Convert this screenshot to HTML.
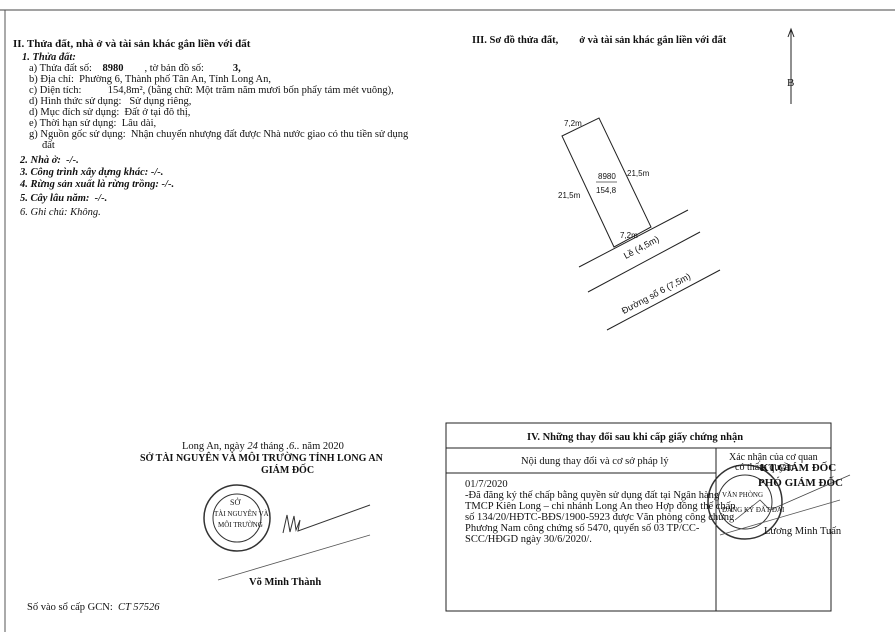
<!DOCTYPE html>
<html><head><meta charset="utf-8"><style>
body{margin:0;width:895px;height:632px;background:#fff;position:relative;overflow:hidden;font-family:"Liberation Serif",serif;color:#111}
.t{position:absolute;font-size:10.5px;white-space:nowrap;line-height:11px}
.b{font-weight:bold}.i{font-style:italic}
.s{font-family:"Liberation Sans",sans-serif;font-size:8px}
</style></head><body>
<svg width="895" height="632" style="position:absolute;left:0;top:0">
<line x1="0" y1="10" x2="895" y2="10" stroke="#444" stroke-width="1"/>
<line x1="5" y1="10" x2="5" y2="632" stroke="#555" stroke-width="1"/>
<polygon points="562,136 599,118 651,227 614,247" fill="none" stroke="#222" stroke-width="1"/>
<line x1="596" y1="182" x2="617" y2="182" stroke="#444" stroke-width="0.7"/>
<line x1="579" y1="267" x2="688" y2="210" stroke="#222"/>
<line x1="588" y1="292" x2="700" y2="232" stroke="#222"/>
<line x1="607" y1="330" x2="720" y2="270" stroke="#222"/>
<line x1="791" y1="30" x2="791" y2="104" stroke="#222"/>
<polyline points="788,37 791,29 794,37" fill="none" stroke="#222"/>
<rect x="446" y="423" width="385" height="188" fill="none" stroke="#222"/>
<line x1="446" y1="448" x2="831" y2="448" stroke="#222"/>
<line x1="446" y1="473" x2="716" y2="473" stroke="#222"/>
<line x1="716" y1="448" x2="716" y2="611" stroke="#222"/>
<circle cx="237" cy="518" r="33" fill="none" stroke="#333" stroke-width="1.5"/>
<circle cx="237" cy="518" r="24" fill="none" stroke="#333" stroke-width="1"/>
<circle cx="745" cy="502" r="37" fill="none" stroke="#333" stroke-width="1.5"/>
<circle cx="745" cy="502" r="27" fill="none" stroke="#333" stroke-width="1"/>
<path d="M283,533 L287,515 L290,532 L294,516 L296,530 L300,520 L298,531 L370,505" fill="none" stroke="#333"/>
<path d="M218,580 L370,535" fill="none" stroke="#555" stroke-width="0.8"/>
<path d="M735,520 L760,500 L770,510 L850,475" fill="none" stroke="#444" stroke-width="0.8"/>
<path d="M720,535 L840,500" fill="none" stroke="#555" stroke-width="0.8"/>
</svg>
<div class="t b" style="left:13px;top:39px;font-size:11px">II. Thửa đất, nhà ở và tài sản khác gắn liền với đất</div>
<div class="t b i" style="left:22px;top:52px">1. Thửa đất:</div>
<div class="t" style="left:29px;top:63px">a) Thửa đất số:&nbsp;&nbsp;&nbsp; <b>8980</b>&nbsp;&nbsp;&nbsp;&nbsp;&nbsp;&nbsp;&nbsp;&nbsp;, tờ bản đồ số:&nbsp;&nbsp;&nbsp;&nbsp;&nbsp;&nbsp;&nbsp;&nbsp;&nbsp;&nbsp; <b>3,</b></div>
<div class="t" style="left:29px;top:74px">b) Địa chỉ:&nbsp; Phường 6, Thành phố Tân An, Tỉnh Long An,</div>
<div class="t" style="left:29px;top:85px">c) Diện tích:&nbsp;&nbsp;&nbsp;&nbsp;&nbsp;&nbsp;&nbsp;&nbsp;&nbsp; 154,8m², (bằng chữ: Một trăm năm mươi bốn phẩy tám mét vuông),</div>
<div class="t" style="left:29px;top:96px">d) Hình thức sử dụng:&nbsp;&nbsp; Sử dụng riêng,</div>
<div class="t" style="left:29px;top:107px">d) Mục đích sử dụng:&nbsp; Đất ở tại đô thị,</div>
<div class="t" style="left:29px;top:118px">e) Thời hạn sử dụng:&nbsp; Lâu dài,</div>
<div class="t" style="left:29px;top:129px">g) Nguồn gốc sử dụng:&nbsp; Nhận chuyển nhượng đất được Nhà nước giao có thu tiền sử dụng</div>
<div class="t" style="left:42px;top:140px">đất</div>
<div class="t b i" style="left:20px;top:155px">2. Nhà ở:&nbsp; -/-.</div>
<div class="t b i" style="left:20px;top:167px">3. Công trình xây dựng khác: -/-.</div>
<div class="t b i" style="left:20px;top:179px">4. Rừng sản xuất là rừng trồng: -/-.</div>
<div class="t b i" style="left:20px;top:193px">5. Cây lâu năm:&nbsp; -/-.</div>
<div class="t i" style="left:20px;top:207px">6. Ghi chú: Không.</div>
<div class="t b" style="left:472px;top:35px">III. Sơ đồ thửa đất,&nbsp;&nbsp;&nbsp;&nbsp;&nbsp;&nbsp;&nbsp; ở và tài sản khác gắn liền với đất</div>
<div class="t" style="left:787px;top:78px;font-size:11px">B</div>
<div class="t s" style="left:564px;top:118px">7,2m</div>
<div class="t s" style="left:598px;top:171px">8980</div>
<div class="t s" style="left:596px;top:185px">154,8</div>
<div class="t s" style="left:627px;top:168px">21,5m</div>
<div class="t s" style="left:558px;top:190px">21,5m</div>
<div class="t s" style="left:620px;top:230px">7,2m</div>
<div class="t s" style="left:622px;top:252px;font-size:9px;transform:rotate(-28deg);transform-origin:left top">Lề (4,5m)</div>
<div class="t s" style="left:620px;top:307px;font-size:9px;transform:rotate(-28deg);transform-origin:left top">Đường số 6 (7,5m)</div>
<div class="t" style="left:182px;top:441px">Long An, ngày <i>24</i> tháng <i>.6..</i> năm 2020</div>
<div class="t b" style="left:140px;top:453px;font-size:10px">SỞ TÀI NGUYÊN VÀ MÔI TRƯỜNG TỈNH LONG AN</div>
<div class="t b" style="left:261px;top:465px;font-size:10px">GIÁM ĐỐC</div>
<div class="t" style="left:230px;top:497px;font-size:8px">SỞ</div>
<div class="t" style="left:214px;top:509px;font-size:7px">TÀI NGUYÊN VÀ</div>
<div class="t" style="left:218px;top:520px;font-size:7px">MÔI TRƯỜNG</div>
<div class="t b" style="left:249px;top:577px">Võ Minh Thành</div>
<div class="t" style="left:27px;top:602px">Số vào sổ cấp GCN:&nbsp; <i>CT 57526</i></div>
<div class="t b" style="left:527px;top:432px">IV. Những thay đổi sau khi cấp giấy chứng nhận</div>
<div class="t" style="left:521px;top:456px">Nội dung thay đổi và cơ sở pháp lý</div>
<div class="t" style="left:729px;top:452px;font-size:10px">Xác nhận của cơ quan</div>
<div class="t" style="left:735px;top:462px;font-size:10px">có thẩm quyền</div>
<div class="t b" style="left:760px;top:463px;font-size:11px">KT.GIÁM ĐỐC</div>
<div class="t b" style="left:758px;top:478px;font-size:11px">PHÓ GIÁM ĐỐC</div>
<div class="t" style="left:722px;top:490px;font-size:7px">VĂN PHÒNG</div>
<div class="t" style="left:722px;top:505px;font-size:7px">ĐĂNG KÝ ĐẤT ĐAI</div>
<div class="t" style="left:764px;top:526px">Lương Minh Tuấn</div>
<div class="t" style="left:465px;top:479px">01/7/2020</div>
<div class="t" style="left:465px;top:490px">-Đã đăng ký thế chấp bằng quyền sử dụng đất tại Ngân hàng</div>
<div class="t" style="left:465px;top:501px">TMCP Kiên Long – chi nhánh Long An theo Hợp đồng thế chấp</div>
<div class="t" style="left:465px;top:512px">số 134/20/HĐTC-BĐS/1900-5923 được Văn phòng công chứng</div>
<div class="t" style="left:465px;top:523px">Phương Nam công chứng số 5470, quyển số 03 TP/CC-</div>
<div class="t" style="left:465px;top:534px">SCC/HĐGD ngày 30/6/2020/.</div>
</body></html>
